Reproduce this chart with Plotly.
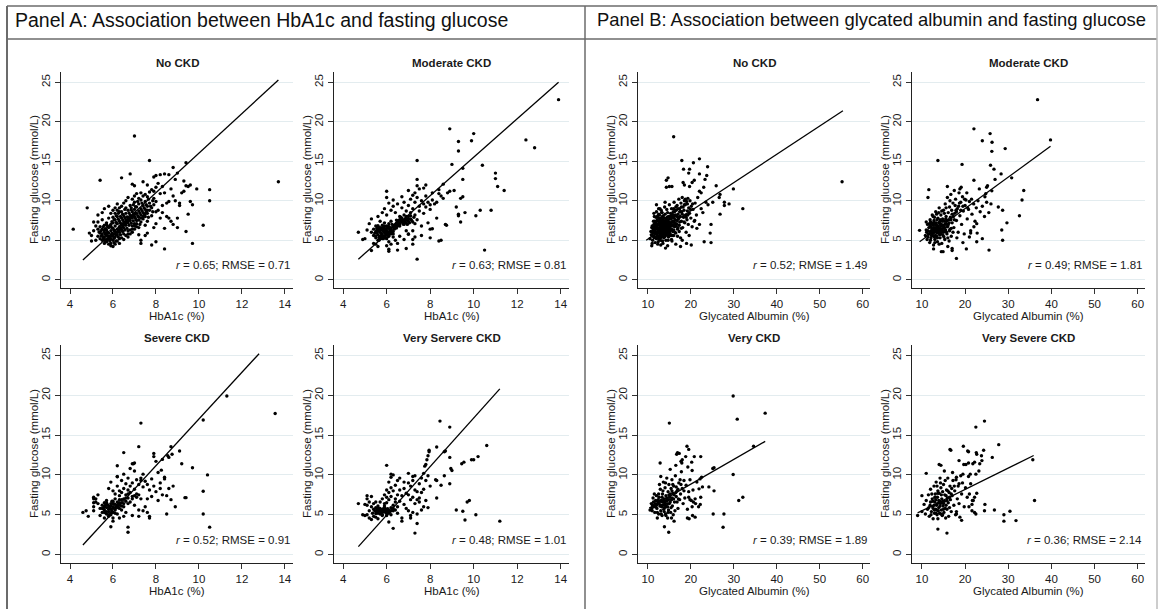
import plotly.graph_objects as go

W, H = 1161, 609
FONT = "Liberation Sans, Arial, sans-serif"

# ---------------- DATA ----------------
# Panel A: HbA1c (%) vs fasting glucose (mmol/L)
a_no_ckd = [
    (5.3,5.5),(5.4,5.2),(5.5,5.0),(5.5,5.8),(5.6,5.4),(5.6,6.0),(5.7,4.8),(5.7,5.6),(5.7,6.3),(5.8,5.2),
    (5.8,5.9),(5.8,6.6),(5.9,4.6),(5.9,5.5),(5.9,6.2),(5.9,7.0),(6.0,5.0),(6.0,5.8),(6.0,6.5),(6.0,7.2),
    (6.1,5.4),(6.1,6.1),(6.1,6.8),(6.1,7.6),(6.2,5.7),(6.2,6.4),(6.2,7.1),(6.2,8.0),(6.3,5.2),(6.3,6.0),
    (6.3,6.7),(6.3,7.4),(6.4,6.3),(6.4,7.0),(6.4,7.8),(6.4,8.6),(6.5,5.8),(6.5,6.6),(6.5,7.3),(6.5,8.1),
    (6.6,6.9),(6.6,7.6),(6.6,8.4),(6.6,9.1),(6.7,6.2),(6.7,7.2),(6.7,7.9),(6.7,8.8),(6.8,7.5),(6.8,8.2),
    (6.8,9.4),(6.9,6.8),(6.9,7.8),(6.9,8.6),(7.0,7.1),(7.0,8.0),(7.0,8.9),(7.0,9.8),(7.1,7.5),(7.1,8.4),
    (7.1,9.2),(7.2,6.6),(7.2,7.9),(7.2,8.7),(7.2,9.6),(7.3,7.3),(7.3,8.2),(7.3,9.0),(7.3,10.1),(7.4,7.7),
    (7.4,8.5),(7.4,9.4),(7.5,6.9),(7.5,8.0),(7.5,8.9),(7.5,9.9),(7.6,7.4),(7.6,8.4),(7.6,9.3),(7.7,8.8),
    (7.7,9.7),(7.8,8.1),(7.8,9.1),(7.9,9.5),(7.9,10.3),(8.0,8.6),(8.0,9.9),
    (5.0,5.6),(5.1,6.2),(5.2,5.0),(5.2,6.8),(5.3,6.4),(5.3,7.3),(5.4,5.9),(5.4,6.7),(5.5,6.4),(5.5,7.6),
    (5.6,6.9),(5.6,4.6),(5.7,7.2),(5.8,7.8),(5.9,8.4),(6.0,8.8),(5.9,4.3),(6.0,4.2),(6.1,4.5),(6.2,4.9),
    (6.3,4.6),(6.4,5.3),(6.5,5.1),(6.6,5.6),(6.7,5.8),(6.8,6.3),(6.9,6.0),(7.0,6.4),(7.1,6.7),(7.2,5.7),
    (6.3,8.6),(6.1,9.1),(6.2,9.6),(6.4,9.3),(6.5,9.7),(6.6,10.0),(6.7,10.4),(6.9,10.2),(7.0,10.6),(7.1,10.9),
    (7.2,10.3),(7.3,11.0),(7.4,10.6),(7.5,10.8),(7.6,10.5),(7.7,11.1),(7.8,11.4),(7.9,11.2),(8.0,11.7),
    (5.55,5.3),(5.65,5.75),(5.75,6.05),(5.85,5.35),(5.95,5.85),(6.05,6.25),(6.15,5.65),(6.25,6.15),(5.65,6.45),
    (5.75,5.1),(5.95,6.55),(6.05,5.25),(6.35,6.45),(6.45,6.85),(6.55,7.05),(6.65,7.35),(6.75,7.65),(6.85,7.95),
    (6.95,8.25),(7.05,8.45),(5.45,5.55),(5.35,6.05),(5.85,6.85),(6.15,7.25),(6.25,7.65),(6.45,7.55),(6.55,7.85),
    (6.85,8.85),
    (5.45,6.2),(5.55,6.7),(5.65,4.9),(5.75,6.7),(5.85,4.9),(5.95,7.35),(6.05,4.7),(6.05,7.6),(6.15,4.9),(6.15,8.1),
    (6.25,5.4),(6.25,8.4),(6.35,5.7),(6.35,7.15),(6.35,8.0),(6.45,6.1),(6.45,8.3),(6.55,6.3),(6.55,8.9),(6.65,6.5),
    (6.65,7.95),(6.75,6.9),(6.75,8.45),(6.85,7.15),(6.85,9.1),(6.95,7.45),(6.95,9.5),(7.05,7.75),(7.05,9.25),(7.15,8.1),
    (7.15,9.9),(7.25,8.45),(7.25,7.0),(7.35,8.75),(7.35,9.7),(7.45,8.2),(7.45,9.1),(7.55,8.6),(7.55,9.5),(7.65,7.9),
    (7.65,10.2),(7.75,9.3),(7.85,8.6),(7.85,10.0),(5.5,5.55),(5.6,5.1),(5.7,5.85),(5.8,5.55),(5.9,5.15),(6.0,5.5),
    (6.1,5.8),(6.2,6.0),(6.3,6.35),(6.4,6.6),(6.5,6.95),(6.6,7.25),(6.7,7.5),(6.8,7.8),(6.9,8.0),(7.0,8.3),
    (5.6,6.25),(5.7,6.95),(5.8,4.5),(5.9,6.75),(6.0,7.9),(6.1,8.4),(6.2,8.8),(6.3,9.1),(6.7,5.4),(6.8,5.8),
    (6.9,6.4),(7.0,6.8),(7.1,7.1),(7.2,7.55),(7.3,7.8),(7.4,8.0),(7.5,8.35),(7.6,8.8),
    (4.15,6.4),(4.8,9.1),(4.9,5.9),(5.0,4.9),(5.1,7.3),(5.4,12.6),(5.3,8.2),(5.5,8.5),(5.6,9.0),(5.8,9.3),
    (6.4,12.9),(6.8,13.4),(6.9,12.1),(7.0,11.9),(7.0,18.2),(7.7,15.1),(7.9,13.0),(8.0,13.2),(8.2,13.3),(8.4,13.4),
    (8.6,13.3),(8.8,14.2),(9.0,13.5),(9.4,14.8),(9.3,12.5),(9.4,11.9),(9.5,11.8),(9.6,12.0),(9.3,11.2),(9.9,11.5),
    (10.5,11.4),(10.5,10.0),(10.2,6.9),(9.7,4.6),(9.4,6.1),(9.5,8.3),(9.6,9.9),(9.7,9.5),(9.1,9.7),(9.1,9.4),
    (9.0,6.6),(9.0,7.8),(8.4,3.9),(7.8,4.4),(8.0,4.8),(7.3,4.6),(7.3,5.0),(8.7,11.5),(8.8,10.6),(8.5,9.7),
    (8.3,9.4),(8.6,9.9),(8.9,10.0),(8.2,10.9),(8.4,11.0),(8.5,8.0),(8.6,7.8),(8.7,7.4),(8.3,8.5),(8.1,8.8),
    (8.0,7.1),(7.9,6.6),(7.6,5.9),(7.5,5.6),(8.2,7.8),(8.3,11.8),(13.7,12.4),(8.1,12.2),(7.6,12.0),(7.4,12.4),
    (8.9,12.7),(9.2,11.0),(8.4,6.5),(8.8,7.0),
]

a_moderate_ckd = [
    (5.3,6.0),(5.4,5.6),(5.4,6.4),(5.5,5.3),(5.5,6.1),(5.5,6.8),(5.6,5.7),(5.6,6.3),(5.6,5.0),(5.7,5.5),
    (5.7,6.0),(5.7,6.6),(5.8,5.2),(5.8,5.8),(5.8,6.3),(5.8,6.9),(5.9,5.5),(5.9,6.0),(5.9,6.5),(5.9,7.2),
    (6.0,5.2),(6.0,5.7),(6.0,6.2),(6.0,6.8),(6.1,5.5),(6.1,6.0),(6.1,6.5),(6.1,7.1),(6.2,5.8),(6.2,6.3),
    (6.2,7.4),(6.3,6.1),(6.3,6.7),(6.3,5.4),(5.65,6.15),(5.75,5.85),(5.85,6.15),(5.95,5.8),(6.05,6.0),(5.85,5.5),
    (5.95,6.25),(6.15,6.3),(5.45,5.9),(5.55,6.5),(5.65,5.35),(6.05,6.55),(6.25,6.0),(5.75,6.35),
    (6.4,7.0),(6.5,7.3),(6.5,6.8),(6.6,7.1),(6.6,7.6),(6.7,7.3),(6.7,7.8),(6.8,7.0),(6.8,7.5),(6.9,7.2),
    (6.9,7.7),(7.0,7.4),(7.0,8.0),(6.45,7.55),(6.55,7.15),(6.65,7.45),(6.75,7.05),(6.85,7.35),(6.95,7.55),(7.1,7.7),
    (7.2,7.3),(6.35,6.9),(6.6,8.0),(6.8,8.2),
    (5.5,5.55),(5.55,6.25),(5.6,6.85),(5.65,5.0),(5.7,6.3),(5.75,5.3),(5.8,6.6),(5.85,5.2),(5.9,6.8),(5.95,5.3),
    (6.0,6.5),(6.05,5.45),(6.1,6.75),(6.15,5.8),(6.2,6.6),(6.25,7.0),(6.3,5.8),(6.35,6.4),(6.4,6.7),(6.45,7.2),
    (6.55,7.5),(6.6,6.8),(6.7,7.6),(6.75,7.3),(6.85,7.7),(6.9,8.0),(6.95,7.0),(7.0,7.7),(7.05,7.2),(7.1,8.1),
    (7.15,7.5),(7.25,7.9),(7.3,7.1),(6.65,7.9),(6.45,6.55),(5.75,5.55),(5.95,6.05),(6.05,5.75),(5.55,5.95),(5.65,6.6),
    (6.15,6.1),(5.85,6.4),
    (5.0,5.2),(5.1,6.3),(5.2,7.1),(5.3,7.7),(5.4,4.6),(5.5,4.5),(5.6,8.0),(5.7,7.4),(5.8,8.5),(5.9,9.0),
    (6.0,8.2),(6.0,4.3),(6.1,4.8),(6.2,8.8),(6.3,9.3),(6.4,8.5),(6.5,9.6),(6.6,5.5),(6.7,9.1),(6.8,9.8),
    (6.9,8.7),(7.0,9.4),(7.0,5.8),(7.1,8.5),(7.1,10.2),(7.2,9.0),(7.2,6.2),(7.3,9.8),(7.3,8.2),(7.3,11.0),
    (7.4,10.4),(7.4,7.6),(7.5,9.3),(7.5,8.7),(7.5,11.5),(7.6,10.0),(7.6,6.8),(7.7,9.6),(7.7,8.4),(7.8,10.6),
    (7.8,9.2),(7.9,9.8),(8.0,9.5),(8.0,8.9),(8.1,10.1),(8.2,9.6),(8.3,7.8),(7.9,7.2),(7.6,5.6),(7.2,5.1),
    (6.9,6.2),(6.5,4.6),(6.8,5.1),(6.3,10.1),(6.1,9.7),(6.7,10.5),(7.0,11.3),(7.4,11.9),(7.7,11.6),(8.1,11.0),
    (8.4,10.9),(8.6,10.3),(8.8,11.0),(7.8,12.0),(7.2,10.7),(6.4,5.0),(6.2,4.5),
    (13.9,22.8),(12.4,17.7),(12.8,16.7),(8.9,19.1),(9.3,17.5),(9.3,16.3),(9.9,17.6),(10.0,18.5),(9.0,14.6),(9.5,14.1),
    (10.4,14.5),(9.5,12.7),(11.0,13.5),(11.0,12.8),(11.1,11.8),(11.4,11.3),(7.4,15.1),(7.4,12.7),(8.9,11.2),(9.1,11.3),
    (9.4,10.3),(9.5,10.5),(9.2,9.2),(9.3,8.3),(9.3,8.1),(9.4,7.3),(9.6,8.5),(10.1,8.1),(10.3,8.8),(10.8,8.8),
    (10.5,3.75),(8.75,6.9),(8.7,7.0),(8.4,4.9),(8.5,5.0),(8.0,6.4),(8.1,6.45),(8.0,5.3),(7.4,2.6),(7.3,5.4),
    (4.7,6.0),(4.9,5.1),(5.3,3.7),(5.6,4.2),(5.7,5.3),(6.0,11.2),(6.0,10.4),(6.1,3.85),(6.1,3.6),(6.5,3.75),
    (6.9,3.95),(7.2,4.5),(7.0,5.75),(8.6,12.1),(8.4,11.4),(8.5,10.6),(8.3,9.8),
]

a_severe_ckd = [
    (5.4,5.8),(5.5,6.2),(5.5,5.3),(5.6,5.6),(5.6,6.5),(5.7,5.1),(5.7,5.9),(5.7,6.8),(5.8,5.4),(5.8,6.1),
    (5.8,4.8),(5.9,5.7),(5.9,6.4),(5.9,5.0),(6.0,5.3),(6.0,6.0),(6.0,6.7),(6.0,4.6),(6.1,5.6),(6.1,6.3),
    (6.1,7.0),(6.2,5.9),(6.2,6.6),(6.2,5.1),(6.3,6.2),(6.3,6.9),(6.3,7.4),(6.4,6.5),(6.4,5.6),(6.5,7.0),
    (6.5,6.0),(6.6,6.7),(6.6,7.5),(6.7,7.1),(6.8,6.6),(6.8,7.8),(5.85,5.95),(5.95,5.45),(6.05,6.35),(5.75,6.25),
    (5.65,5.25),(6.15,5.95),(6.25,6.35),(5.55,5.75),
    (5.5,5.8),(5.6,6.0),(5.7,5.4),(5.7,6.5),(5.8,5.7),(5.9,6.1),(5.9,5.2),(6.0,5.8),(6.0,6.4),(6.1,5.9),
    (6.1,5.2),(6.2,6.2),(6.3,5.8),(6.3,6.5),(6.4,6.9),(6.5,6.4),(6.6,7.1),(6.7,6.4),(6.7,7.6),(5.8,5.0),
    (5.6,5.3),(6.4,6.1),(6.9,7.0),(7.0,7.4),(7.1,7.2),(7.2,7.5),(5.65,6.2),(5.95,6.7),
    (5.2,7.0),(5.2,6.6),(5.3,6.4),(5.3,7.5),(5.1,5.5),(5.1,6.0),(5.1,6.5),(5.1,7.0),(5.1,7.2),(5.4,4.9),
    (5.6,4.6),(5.8,8.3),(5.9,9.1),(6.0,8.0),(6.1,7.6),(6.2,8.6),(6.3,8.0),(6.4,7.8),(6.4,9.3),(6.5,8.3),
    (6.6,8.9),(6.6,5.3),(6.7,9.6),(6.7,8.1),(6.8,8.6),(6.9,7.3),(6.9,9.0),(7.0,8.2),(7.0,10.5),(7.0,6.2),
    (7.1,9.4),(7.1,7.6),(7.2,8.8),(7.2,5.6),(7.3,9.6),(7.3,7.0),(7.4,8.5),(7.4,10.1),(7.5,9.2),(7.5,6.0),
    (7.6,8.8),(7.6,5.3),(7.7,4.8),(7.7,4.6),(7.8,9.5),(7.8,7.3),(7.9,12.7),(7.9,12.3),(7.9,8.6),(8.0,11.7),
    (8.0,7.9),(8.1,10.3),(8.2,8.3),(8.2,9.0),(8.3,7.5),(8.4,9.7),(8.4,9.5),(8.5,7.4),(8.6,8.3),(8.7,6.9),
    (8.1,6.8),(7.4,5.5),(7.2,4.8),(6.9,4.9),(6.5,4.8),(6.3,4.6),(6.0,4.2),(6.9,11.4),(7.0,11.5),(6.8,10.8),
    (7.3,9.3),(6.5,10.1),(6.2,9.8),(7.7,8.1),(7.6,7.0),(8.8,8.6),
    (13.55,17.7),(11.3,19.9),(10.2,16.9),(10.2,7.95),(10.4,10.0),(10.2,5.1),(10.5,3.45),(9.7,10.9),(9.35,7.15),(9.4,7.15),
    (9.2,11.4),(9.1,13.0),(8.7,13.55),(8.6,12.2),(8.75,12.6),(8.55,12.4),(8.3,11.95),(8.25,10.6),(7.3,16.5),(7.2,13.55),
    (6.5,12.8),(6.2,11.15),(6.2,9.76),(6.95,11.4),(6.7,3.45),(5.9,3.5),(6.7,2.8),(4.6,5.3),(4.75,5.5),(4.85,4.8),
    (8.5,5.1),(8.9,6.0),
]

a_very_severe_ckd = [
    (5.4,5.7),(5.5,5.4),(5.5,5.9),(5.6,5.6),(5.6,5.2),(5.6,6.1),(5.7,5.5),(5.7,5.8),(5.7,5.1),(5.8,5.6),
    (5.8,5.3),(5.9,5.5),(5.9,5.9),(6.0,5.4),(6.0,5.7),(6.1,5.6),(6.1,5.2),(6.2,5.5),(5.65,5.45),(5.75,5.65),
    (5.85,5.45),(5.95,5.65),(5.55,5.65),(6.05,5.45),(5.35,5.2),(5.3,6.0),(5.2,5.5),(5.1,5.0),(5.0,4.9),(5.1,6.2),
    (5.45,5.5),(5.55,5.3),(5.65,5.7),(5.75,5.35),(5.85,5.75),(5.95,5.3),(6.05,5.75),(6.15,5.4),(5.5,5.15),(5.8,5.05),
    (6.0,5.15),(5.6,5.9),(5.9,6.1),(6.3,5.5),(6.4,5.6),(6.2,5.9),
    (5.2,6.6),(5.3,7.3),(5.1,7.0),(5.4,6.4),(5.5,6.6),(5.5,4.7),(5.6,4.5),(5.7,6.6),(5.8,7.0),(5.8,4.9),
    (5.9,7.5),(5.9,6.4),(6.0,8.1),(6.0,7.2),(6.0,6.5),(6.0,4.9),(6.1,7.8),(6.1,9.1),(6.1,6.9),(6.1,4.1),
    (6.2,8.4),(6.2,9.7),(6.2,10.1),(6.2,7.3),(6.2,5.0),(6.3,8.0),(6.3,6.2),(6.3,5.8),(6.4,7.0),(6.4,8.7),
    (6.4,6.6),(6.5,7.5),(6.5,9.3),(6.5,6.0),(6.5,5.2),(6.6,9.6),(6.6,8.1),(6.6,6.7),(6.7,4.2),(6.7,4.6),
    (6.7,7.4),(6.8,6.3),(6.8,8.3),(6.9,7.7),(6.9,5.8),(7.0,10.2),(7.0,9.0),(7.0,7.5),(7.0,5.5),(7.1,8.6),
    (7.1,6.9),(7.1,4.9),(7.1,4.6),(7.2,9.3),(7.2,9.8),(7.2,7.2),(7.2,5.3),(7.3,9.9),(7.3,8.1),(7.3,6.4),
    (7.4,7.9),(7.4,5.1),(7.5,8.9),(7.5,7.1),(7.5,6.6),(7.6,9.6),(7.6,7.8),(7.6,5.6),(7.7,10.2),(7.7,8.2),
    (7.7,6.0),(7.8,9.3),(7.8,6.8),(7.9,9.9),(7.9,5.9),(8.0,8.6),(7.4,6.9),(6.8,9.1),(6.3,10.0),
    (11.2,4.2),(10.6,13.7),(10.2,12.3),(9.9,11.9),(10.0,11.9),(9.55,11.6),(9.45,11.4),(10.1,5.0),(9.8,6.8),(9.7,6.6),
    (9.6,4.35),(9.5,5.45),(9.2,5.6),(8.45,16.75),(8.9,16.0),(8.3,13.5),(8.65,12.9),(8.7,13.0),(8.9,12.2),(8.95,10.8),
    (9.0,10.55),(8.65,9.9),(8.9,8.9),(8.3,9.3),(8.25,9.4),(8.5,8.7),(8.3,7.1),(7.95,13.1),(7.95,12.9),(7.9,12.4),
    (7.85,11.9),(7.8,11.3),(7.75,11.1),(7.3,2.7),(6.3,3.3),(7.4,3.9),(6.0,11.2),(4.7,6.4),(4.9,5.0),(5.0,6.3),
    (5.1,7.4),(5.2,4.6),(5.3,4.4),(5.4,4.8),
]

# Panel B: glycated albumin (%) vs fasting glucose (mmol/L)
b_no_ckd = [
    (10.5,5.2),(10.7,6.1),(10.9,5.6),(11.0,6.8),(11.1,5.0),(11.2,6.3),(11.3,7.4),(11.4,5.5),(11.5,6.0),(11.5,8.0),
    (11.6,6.7),(11.7,4.7),(11.8,5.8),(11.8,7.2),(11.9,6.4),(12.0,5.2),(12.0,8.6),(12.1,6.9),(12.2,5.6),(12.2,7.6),
    (12.3,6.1),(12.4,4.8),(12.4,7.0),(12.5,6.5),(12.5,8.3),(12.6,5.4),(12.7,7.3),(12.7,6.0),(12.8,9.0),(12.9,6.7),
    (12.9,5.0),(13.0,7.8),(13.0,5.8),(13.1,6.3),(13.2,7.1),(13.2,8.5),(13.3,5.5),(13.4,6.6),(13.4,7.5),(13.5,4.6),
    (13.5,6.1),(13.6,8.1),(13.7,5.3),(13.7,7.0),(13.8,6.5),(13.9,9.2),(13.9,5.9),(14.0,7.4),(14.0,8.3),(14.1,6.2),
    (14.2,5.0),(14.2,6.9),(14.3,7.8),(14.4,5.7),(14.4,8.9),(14.5,6.5),(14.6,7.3),(14.6,4.3),(14.7,6.0),(14.8,8.0),
    (14.8,5.4),(14.9,7.0),(15.0,6.6),(15.0,9.5),(15.1,7.7),(15.2,5.8),(15.3,8.4),(15.3,6.3),(15.4,7.2),(15.5,5.1),
    (15.5,9.0),(15.6,6.8),(15.7,7.9),(15.8,6.1),(15.9,8.6),(16.0,7.3),(16.0,5.6),(16.1,9.8),(16.2,6.7),(16.3,8.1),
    (16.4,7.6),(16.5,5.9),(16.6,8.8),(16.7,7.1),(16.8,9.4),(16.9,6.4),(17.0,8.3),(17.1,7.7),(17.2,10.2),(17.3,6.9),
    (17.4,9.0),(17.5,8.0),(17.6,5.3),(17.7,9.7),(17.8,7.4),(17.9,8.6),(18.0,10.4),(18.1,6.6),(18.2,9.2),(18.3,7.9),
    (18.4,8.8),(18.5,10.0),(18.6,7.2),(18.7,9.5),(18.8,8.2),(18.9,6.0),(19.0,9.9),(19.1,7.6),(19.2,8.7),(19.3,10.3),
    (19.4,7.0),(19.5,9.1),(19.6,5.6),(19.7,8.4),(19.8,10.0),(20.0,7.8),(20.1,9.3),(20.3,6.7),(20.5,8.9),(20.8,7.4),
    (21.0,9.7),(21.3,8.2),(21.6,10.4),(22.0,7.0),(22.4,9.0),(22.8,8.5),(23.5,9.8),(24.0,9.5),(18.0,5.0),(19.0,4.6),
    (16.5,4.5),(13.0,4.4),(12.0,9.5),(11.0,4.6),
    (12.3,6.6),(12.6,7.1),(12.9,6.2),(13.1,7.3),(13.3,6.8),(13.5,7.2),(13.7,6.3),(13.9,7.2),(14.1,6.7),(14.3,6.3),
    (14.5,7.0),(14.7,6.8),(13.2,5.9),(13.6,5.7),(14.0,5.5),(12.8,5.7),(12.4,5.9),(11.9,6.9),(12.1,7.4),(14.2,7.6),
    (13.8,7.8),(13.4,8.0),(15.1,6.1),(14.9,6.3),(15.4,6.9),(13.0,6.9),(12.7,6.6),(13.4,6.3),(13.9,6.8),(14.4,6.1),
    (11.6,6.2),(12.0,6.0),(11.3,5.9),(11.0,5.6),(11.4,7.0),(12.2,8.0),(12.7,8.2),(13.1,8.8),(14.6,8.5),(15.7,8.3),
    (16.2,8.6),(16.8,8.0),(17.4,8.6),(17.8,9.2),(18.5,9.5),(19.2,9.6),(18.0,8.3),(15.8,7.4),(16.4,6.9),(15.2,7.1),
    (11.2,5.5),(11.3,6.6),(11.5,5.3),(11.6,7.4),(11.7,6.0),(11.8,6.6),(11.9,5.4),(12.0,6.6),(12.1,5.9),(12.2,6.5),
    (12.3,5.3),(12.4,6.4),(12.5,7.4),(12.6,6.2),(12.7,5.1),(12.8,6.9),(12.9,7.6),(13.0,6.3),(13.1,5.4),(13.2,6.5),
    (13.3,7.7),(13.4,5.8),(13.5,6.7),(13.6,7.5),(13.7,5.9),(13.8,7.0),(13.9,6.3),(14.0,6.0),(14.1,7.2),(14.2,5.8),
    (14.3,6.9),(14.4,7.4),(14.5,5.9),(14.6,6.6),(14.7,7.6),(14.8,6.2),(14.9,5.7),(15.0,7.3),(15.1,6.5),(15.2,6.8),
    (15.3,5.6),(15.4,7.7),(15.5,6.4),(15.6,7.3),(15.7,5.6),(15.8,6.9),(15.9,7.4),(16.0,6.3),(16.1,7.8),(16.2,7.2),
    (16.3,6.0),(16.4,8.2),(16.6,6.8),(16.8,7.5),(17.0,6.6),(17.2,7.9),(17.4,7.3),(17.6,8.6),(12.2,6.95),(12.5,6.05),
    (12.8,6.35),(13.0,5.35),(13.3,6.25),(13.6,6.15),(13.9,5.45),(14.2,6.45),(14.5,7.9),(14.8,7.2),(15.1,8.0),(15.4,8.1),
    (15.8,8.0),(13.1,7.8),(12.6,7.8),(11.9,7.9),(11.5,6.5),(11.1,6.0),(10.8,5.7),(10.9,6.6),(12.3,4.5),(13.4,4.9),
    (14.7,5.0),(15.6,4.9),(16.9,5.5),(17.3,6.1),(17.8,6.5),(18.4,7.3),(18.9,7.9),(19.3,8.2),(19.9,8.9),(20.4,9.6),
    (18.7,10.2),(17.0,9.0),(16.5,9.2),(16.0,9.0),(13.3,8.5),(12.5,9.0),(14.0,9.8),(11.4,8.4),
    (55.2,12.4),(32.1,9.0),(29.9,11.5),(28.9,9.6),(27.8,9.4),(27.8,9.8),(26.8,8.3),(26.6,10.4),(26.8,10.8),(25.9,11.9),
    (25.1,9.8),(24.7,7.0),(24.5,5.9),(24.7,4.7),(23.1,4.8),(23.9,14.3),(23.7,13.2),(22.0,15.3),(22.0,13.4),(23.3,12.7),
    (23.0,11.7),(22.4,11.0),(22.0,11.2),(20.6,14.8),(19.5,13.5),(19.7,14.0),(18.3,14.0),(17.9,15.1),(18.2,12.3),(18.5,12.0),
    (19.7,11.8),(20.3,12.3),(20.8,12.6),(16.0,18.1),(14.3,12.6),(14.7,12.9),(14.3,11.7),(15.0,11.8),(15.6,11.8),(20.1,4.4),
    (17.6,4.2),(14.1,4.0),(10.9,4.3),(21.4,6.5),(20.9,7.5),
]

b_moderate_ckd = [
    (10.8,5.6),(11.0,6.3),(11.2,5.1),(11.3,7.0),(11.5,5.8),(11.6,6.6),(11.8,4.7),(11.9,7.6),(12.0,6.1),(12.1,5.3),
    (12.2,7.1),(12.3,6.5),(12.4,8.2),(12.5,5.6),(12.6,6.9),(12.7,4.4),(12.8,7.5),(12.9,6.0),(13.0,5.1),(13.1,6.6),
    (13.2,8.6),(13.3,7.2),(13.4,5.5),(13.5,6.3),(13.6,4.8),(13.7,7.8),(13.8,6.8),(13.9,5.9),(14.0,9.1),(14.1,7.3),
    (14.2,5.3),(14.3,6.5),(14.4,8.2),(14.5,7.0),(14.6,4.6),(14.7,6.1),(14.8,7.7),(14.9,5.6),(15.0,8.8),(15.1,6.7),
    (15.2,7.4),(15.3,5.1),(15.4,9.6),(15.5,6.3),(15.6,8.0),(15.7,7.1),(15.8,5.8),(15.9,10.4),(16.0,6.8),(16.1,8.5),
    (16.2,7.6),(16.3,4.9),(16.4,9.2),(16.5,6.4),(16.6,7.9),(16.7,10.8),(16.8,5.5),(16.9,8.8),(17.0,7.2),(17.2,9.7),
    (17.4,6.6),(17.6,8.4),(17.8,10.2),(18.0,7.5),(18.2,9.0),(18.4,6.0),(18.6,11.0),(18.8,8.1),(19.0,9.8),(19.2,7.0),
    (19.4,10.5),(19.6,8.7),(19.8,5.8),(20.0,9.4),(20.2,10.1),(20.5,7.7),(20.8,8.9),(21.0,9.9),(21.3,6.2),(21.6,8.3),
    (22.0,9.6),(22.3,7.4),(22.6,9.1),(23.0,10.0),(23.5,8.6),(24.0,9.3),(24.5,8.0),(25.0,9.8),(25.5,8.5),(26.0,9.6),
    (20.4,11.0),(19.9,10.2),(17.5,11.3),(18.1,5.3),(19.5,4.7),(16.0,4.2),
    (12.4,6.3),(12.8,6.6),(13.2,6.1),(13.6,6.7),(14.0,6.3),(14.4,6.8),(13.0,7.2),(13.4,6.9),(13.8,6.1),(12.6,5.9),
    (14.2,7.6),(14.6,6.4),(15.0,6.0),(11.9,6.8),(11.4,6.2),(12.2,5.6),(13.5,7.6),(14.8,6.9),(15.4,7.0),(13.1,5.6),
    (14.1,5.7),(12.9,7.9),(15.8,7.5),(16.3,7.2),(13.9,8.5),(12.0,7.3),(16.8,6.5),(17.3,8.0),(17.9,8.8),(15.2,8.4),
    (11.1,6.0),(11.4,5.4),(11.7,7.1),(11.9,5.9),(12.1,6.7),(12.3,5.9),(12.5,7.2),(12.7,6.3),(12.9,5.4),(13.1,7.0),
    (13.3,6.4),(13.5,5.9),(13.7,6.5),(13.9,7.2),(14.1,6.0),(14.3,7.0),(14.5,5.8),(14.7,7.4),(14.9,6.5),(15.1,5.4),
    (15.3,6.6),(15.5,7.7),(15.7,6.0),(15.9,6.7),(16.1,7.0),(16.4,6.2),(16.7,7.6),(17.0,8.3),(17.5,7.6),(18.0,8.6),
    (18.5,9.3),(19.0,8.8),(13.0,4.7),(14.0,4.5),(12.0,5.0),(11.0,7.3),(12.6,8.0),(13.4,8.3),(14.6,8.7),(15.6,9.1),
    (16.5,10.0),(17.7,9.4),(18.7,9.7),(19.5,9.3),(20.6,9.1),(21.5,10.2),(12.2,6.2),(13.6,5.3),(14.4,6.3),(15.2,6.2),
    (16.0,5.3),(17.2,6.0),
    (36.8,22.8),(39.8,17.7),(22.05,19.1),(25.8,18.5),(24.0,17.6),(26.25,17.4),(26.2,16.25),(29.3,16.6),(13.7,15.1),(19.3,14.6),
    (25.9,14.5),(26.7,14.0),(28.35,13.4),(30.8,12.9),(26.95,12.7),(22.05,12.6),(23.3,11.5),(33.6,11.3),(33.2,10.1),(26.2,11.25),
    (25.0,11.7),(25.2,11.9),(24.6,10.5),(24.8,10.9),(27.7,9.2),(28.7,8.8),(32.6,8.1),(29.7,7.2),(28.5,6.3),(28.7,5.0),
    (25.55,3.75),(22.7,4.8),(24.0,5.2),(18.0,2.7),(20.3,3.9),(17.0,3.95),(17.0,3.7),(14.9,3.55),(14.5,3.55),(12.7,3.9),
    (9.45,6.25),(11.6,11.4),(11.4,10.4),(15.9,11.8),(18.8,11.5),(19.1,11.7),(22.05,6.7),(22.7,7.1),(22.8,5.9),(21.3,5.9),
    (21.0,5.4),
]

b_very_ckd = [
    (10.5,5.6),(10.8,6.4),(11.0,5.5),(11.2,7.1),(11.4,6.0),(11.6,5.3),(11.8,6.8),(12.0,7.4),(12.1,5.8),(12.3,6.4),
    (12.5,5.1),(12.6,7.2),(12.8,6.1),(12.9,8.2),(13.0,5.5),(13.1,6.8),(13.3,4.9),(13.4,7.6),(13.5,6.2),(13.6,9.1),
    (13.7,5.7),(13.8,7.0),(13.9,6.5),(14.0,8.4),(14.1,5.1),(14.2,7.4),(14.3,6.0),(14.4,9.6),(14.5,6.8),(14.6,4.6),
    (14.7,7.9),(14.8,5.6),(14.9,8.8),(15.0,6.4),(15.1,7.2),(15.2,10.7),(15.3,5.3),(15.4,8.3),(15.5,6.9),(15.6,9.4),
    (15.7,6.1),(15.8,7.7),(15.9,5.0),(16.0,8.6),(16.2,6.6),(16.4,9.9),(16.6,7.3),(16.8,8.0),(17.0,5.8),(17.2,9.0),
    (17.4,6.9),(17.6,7.6),(17.8,10.4),(18.0,8.3),(18.2,6.4),(18.4,9.3),(18.6,7.1),(18.9,8.7),(19.2,5.7),(19.5,7.9),
    (19.8,9.4),(20.1,6.8),(20.5,8.1),(21.0,7.0),(21.4,9.1),(16.5,11.2),(17.3,12.7),(19.3,11.0),(18.0,11.9),(15.5,4.6),
    (16.1,4.2),(12.2,4.6),(13.0,9.8),(11.5,7.6),(12.7,8.8),
    (12.4,6.9),(12.9,6.7),(13.2,6.0),(13.6,6.6),(14.0,6.2),(14.4,7.1),(13.3,7.2),(13.8,5.4),(14.6,6.0),(12.0,6.2),
    (11.7,6.4),(15.2,6.6),(14.9,7.5),(15.6,8.0),(16.1,7.5),(16.6,8.5),(13.5,8.0),(12.2,5.3),(11.3,6.6),(14.2,4.9),
    (15.8,8.8),(16.3,5.5),(17.1,7.0),(17.7,8.8),(14.1,9.0),
    (11.8,6.0),(12.2,6.7),(12.6,6.4),(13.0,6.2),(13.4,6.6),(13.7,6.9),(14.1,6.7),(14.5,6.4),(14.8,6.9),(15.2,7.6),
    (15.6,7.1),(16.0,7.0),(16.5,7.8),(17.0,8.2),(13.1,5.1),(13.9,5.9),(14.7,5.3),(12.5,7.6),(11.1,6.2),(10.9,5.8),
    (15.4,5.9),(16.8,6.6),(17.5,9.4),(18.4,8.0),
    (29.85,19.9),(30.8,17.0),(37.3,17.75),(34.6,13.6),(29.85,10.05),(31.15,6.8),(32.1,7.2),(27.7,5.1),(25.2,5.1),(27.5,3.43),
    (25.4,10.9),(25.1,10.8),(25.4,8.0),(24.2,8.5),(22.7,8.5),(22.3,12.3),(20.8,12.3),(22.15,9.5),(22.5,9.7),(15.0,16.5),
    (19.1,13.6),(19.5,13.2),(16.9,12.8),(16.7,12.6),(18.8,12.3),(17.7,11.7),(17.9,11.5),(12.85,11.5),(20.2,11.6),(20.3,10.55),
    (13.85,3.5),(14.85,2.8),(19.2,4.6),(19.6,4.5),(21.0,4.7),(20.4,4.9),(20.3,6.0),(20.6,6.6),(21.1,6.4),(19.8,6.9),
    (19.5,7.2),(21.9,8.25),(22.3,7.2),(21.8,6.0),(22.2,6.3),
]

b_very_severe_ckd = [
    (10.0,5.4),(10.5,6.3),(10.8,5.1),(11.0,6.8),(11.3,5.7),(11.5,7.5),(11.7,4.8),(11.9,6.2),(12.0,8.2),(12.2,5.4),
    (12.4,7.0),(12.5,6.0),(12.6,4.5),(12.8,8.6),(12.9,5.2),(13.0,6.6),(13.1,7.6),(13.2,5.7),(13.3,9.1),(13.4,6.2),
    (13.5,5.0),(13.6,7.2),(13.7,8.0),(13.8,5.5),(13.9,6.8),(14.0,7.7),(14.1,5.2),(14.2,9.6),(14.3,6.4),(14.4,8.4),
    (14.5,5.6),(14.6,7.0),(14.7,4.9),(14.8,7.9),(14.9,6.1),(15.0,8.8),(15.1,5.3),(15.2,6.7),(15.3,7.5),(15.4,9.3),
    (15.5,4.6),(15.6,6.2),(15.7,8.1),(15.8,5.7),(15.9,7.1),(16.0,9.6),(16.1,6.5),(16.2,4.8),(16.3,7.8),(16.4,5.9),
    (16.5,8.6),(16.6,6.9),(16.8,5.4),(17.0,7.4),(17.2,9.3),(17.4,6.2),(17.6,8.0),(17.8,5.0),(18.0,9.7),(18.2,7.0),
    (18.4,8.6),(18.6,6.4),(18.8,4.7),(19.0,9.9),(19.2,7.6),(19.5,10.1),(19.8,6.0),(20.1,8.4),(20.5,7.2),(20.9,6.0),
    (21.3,8.9),(21.7,6.8),(16.5,13.2),(14.3,9.0),(13.5,8.6),(12.3,7.6),(14.0,11.3),(15.2,10.5),(17.1,10.3),(17.9,9.4),
    (12.8,6.2),(13.2,6.9),(13.6,6.4),(14.1,6.7),(14.5,7.5),(12.9,5.6),(13.9,5.9),(14.4,5.1),(15.0,6.4),(15.4,5.8),
    (12.5,6.7),(13.7,7.7),(15.6,7.4),(16.0,8.0),(16.4,7.2),(11.6,5.9),(12.1,5.0),(13.3,5.2),(14.8,5.0),(16.9,8.3),
    (12.6,5.8),(13.4,5.6),(14.2,6.1),(15.0,5.7),(13.0,7.2),(14.7,6.6),(15.8,6.8),(16.8,7.6),(12.0,6.6),(17.5,8.6),
    (18.6,8.9),(19.4,9.0),
    (35.7,11.9),(36.1,6.8),(31.8,4.27),(30.4,5.44),(29.0,5.0),(29.0,4.2),(27.8,13.8),(26.3,12.2),(26.8,5.6),(24.5,5.5),
    (24.6,6.3),(24.5,16.75),(22.5,16.0),(24.3,13.1),(23.8,12.4),(23.9,11.8),(22.6,12.8),(22.7,12.6),(23.4,11.4),(23.2,10.5),
    (22.5,10.1),(21.8,11.4),(22.2,11.6),(20.8,11.5),(20.6,13.0),(20.8,12.9),(19.6,13.6),(19.7,11.3),(20.2,11.3),(20.8,9.8),
    (21.2,10.1),(18.6,11.8),(16.7,13.1),(14.4,11.2),(11.0,10.2),(9.0,4.9),(10.0,7.4),(13.7,4.5),(13.7,3.2),(15.8,2.7),
    (18.0,5.1),(18.0,5.4),(19.2,4.3),(21.6,6.3),(21.9,6.8),(22.2,7.2),(21.0,7.6),(22.7,7.7),(22.5,5.1),(22.2,5.3),
    (21.6,5.5),
]

# fitted lines: (x_start, x_end, intercept, slope) as drawn in the picture
fit_lines = [
    (4.6, 13.7, -9.02, 2.505),
    (4.7, 13.9, -8.84, 2.435),
    (4.6, 12.8, -12.26, 2.927),
    (4.7, 11.2, -13.32, 3.046),
    (9.6, 55.4, 1.56, 0.358),
    (9.46, 39.8, 1.02, 0.399),
    (10.3, 37.3, 2.64, 0.31),
    (9.0, 35.9, 2.82, 0.268),
]
r_values = ["0.65", "0.63", "0.52", "0.48", "0.52", "0.49", "0.39", "0.36"]
rmse_values = ["0.71", "0.81", "0.91", "1.01", "1.49", "1.81", "1.89", "2.14"]
subtitles = ["No CKD", "Moderate CKD", "Severe CKD", "Very Servere CKD",
             "No CKD", "Moderate CKD", "Very CKD", "Very Severe CKD"]
datasets = [a_no_ckd, a_moderate_ckd, a_severe_ckd, a_very_severe_ckd,
            b_no_ckd, b_moderate_ckd, b_very_ckd, b_very_severe_ckd]
hba1c_ticks = [4, 6, 8, 10, 12, 14]
ga_ticks = [10, 20, 30, 40, 50, 60]
glucose_ticks = [0, 5, 10, 15, 20, 25]
panel_headers = ["Panel A: Association between HbA1c and fasting glucose",
                 "Panel B: Association between glycated albumin and fasting glucose"]

# ---------------- LAYOUT (pixels) ----------------
col_px = [(61, 293), (334, 569), (638, 870), (912, 1145)]
row_px = [(72, 288), (345, 563)]
grid = [(0, 0), (1, 0), (0, 1), (1, 1), (2, 0), (3, 0), (2, 1), (3, 1)]

TXT = "#1a1a1a"
GRID = "#E3ECEF"

fig = go.Figure()
annotations = []
layout_axes = {}


def px_x(v):
    return v / W


def px_y(v):
    return 1 - v / H


for i in range(8):
    n = i + 1
    xa = "x" if n == 1 else f"x{n}"
    ya = "y" if n == 1 else f"y{n}"
    ci, ri = grid[i]
    l, r = col_px[ci]
    t, b = row_px[ri]
    is_a = i < 4
    pts = datasets[i]
    fig.add_trace(go.Scatter(
        x=[p[0] for p in pts], y=[p[1] for p in pts], mode="markers",
        marker=dict(symbol="circle", size=3.4, color="black", line=dict(width=0)),
        xaxis=xa, yaxis=ya, showlegend=False, hoverinfo="skip"))
    x0, x1, b0, b1 = fit_lines[i]
    fig.add_trace(go.Scatter(
        x=[x0, x1], y=[b0 + b1 * x0, b0 + b1 * x1], mode="lines",
        line=dict(color="black", width=1.3),
        xaxis=xa, yaxis=ya, showlegend=False, hoverinfo="skip"))

    layout_axes["xaxis" if n == 1 else f"xaxis{n}"] = dict(
        domain=[px_x(l), px_x(r)], anchor=ya,
        range=[3.58, 14.38] if is_a else [7.7, 61.7],
        tickvals=hba1c_ticks if is_a else ga_ticks,
        showline=True, linecolor="#222", linewidth=1,
        ticks="outside", ticklen=5, tickcolor="#333", tickwidth=1,
        showgrid=False, zeroline=False,
        tickfont=dict(family=FONT, size=11.5, color=TXT), fixedrange=True)
    layout_axes["yaxis" if n == 1 else f"yaxis{n}"] = dict(
        domain=[px_y(b), px_y(t)], anchor=xa,
        range=[-1.05, 26.3], tickvals=glucose_ticks, tickangle=-90,
        showline=True, linecolor="#222", linewidth=1,
        ticks="outside", ticklen=5, tickcolor="#333", tickwidth=1,
        showgrid=True, gridcolor=GRID, gridwidth=1, zeroline=False,
        tickfont=dict(family=FONT, size=11.5, color=TXT), fixedrange=True)

    cx = (l + r) / 2
    title_y = 62.5 if ri == 0 else 338
    annotations.append(dict(
        text=f"<b>{subtitles[i]}</b>", x=px_x(cx), y=px_y(title_y),
        xref="paper", yref="paper", xanchor="center", yanchor="middle",
        showarrow=False, font=dict(family=FONT, size=11.5, color=TXT)))
    annotations.append(dict(
        text="HbA1c (%)" if is_a else "Glycated Albumin (%)",
        x=px_x(cx), y=px_y(b + 28), xref="paper", yref="paper",
        xanchor="center", yanchor="middle", showarrow=False,
        font=dict(family=FONT, size=11.5, color=TXT)))
    annotations.append(dict(
        text="Fasting glucose (mmol/L)", textangle=-90,
        x=px_x(l - 27), y=px_y((t + b) / 2), xref="paper", yref="paper",
        xanchor="center", yanchor="middle", showarrow=False,
        font=dict(family=FONT, size=11.5, color=TXT)))
    annotations.append(dict(
        text=f"<i>r</i> = {r_values[i]}; RMSE = {rmse_values[i]}",
        x=px_x(r - 1), y=1.8, xref="paper", yref=ya,
        xanchor="right", yanchor="middle", showarrow=False,
        font=dict(family=FONT, size=11.5, color=TXT)))

# Panel headers
annotations.append(dict(text=panel_headers[0], x=px_x(13), y=px_y(20), xref="paper", yref="paper",
                        xanchor="left", yanchor="middle", showarrow=False,
                        font=dict(family=FONT, size=19.5, color="#111")))
annotations.append(dict(text=panel_headers[1], x=px_x(595), y=px_y(20), xref="paper", yref="paper",
                        xanchor="left", yanchor="middle", showarrow=False,
                        font=dict(family=FONT, size=18.4, color="#111")))

BORDER = "#6b6b6b"
shapes = [
    dict(type="line", xref="paper", yref="paper", x0=px_x(7), x1=px_x(1157), y0=px_y(6), y1=px_y(6),
         line=dict(color=BORDER, width=1.5)),
    dict(type="line", xref="paper", yref="paper", x0=px_x(7), x1=px_x(1157), y0=px_y(39), y1=px_y(39),
         line=dict(color=BORDER, width=1.5)),
    dict(type="line", xref="paper", yref="paper", x0=px_x(7), x1=px_x(7), y0=px_y(6), y1=0,
         line=dict(color=BORDER, width=2)),
    dict(type="line", xref="paper", yref="paper", x0=px_x(585), x1=px_x(585), y0=px_y(6), y1=0,
         line=dict(color=BORDER, width=1.5)),
    dict(type="line", xref="paper", yref="paper", x0=px_x(1157), x1=px_x(1157), y0=px_y(6), y1=0,
         line=dict(color="#bdbdbd", width=1.5)),
]

fig.update_layout(
    width=W, height=H, margin=dict(l=0, r=0, t=0, b=0),
    paper_bgcolor="white", plot_bgcolor="white",
    annotations=annotations, shapes=shapes, showlegend=False,
    **layout_axes)

fig.write_html("out.html", config={"displayModeBar": False},
               post_script="document.body.style.margin='0';document.body.style.overflow='hidden';")
